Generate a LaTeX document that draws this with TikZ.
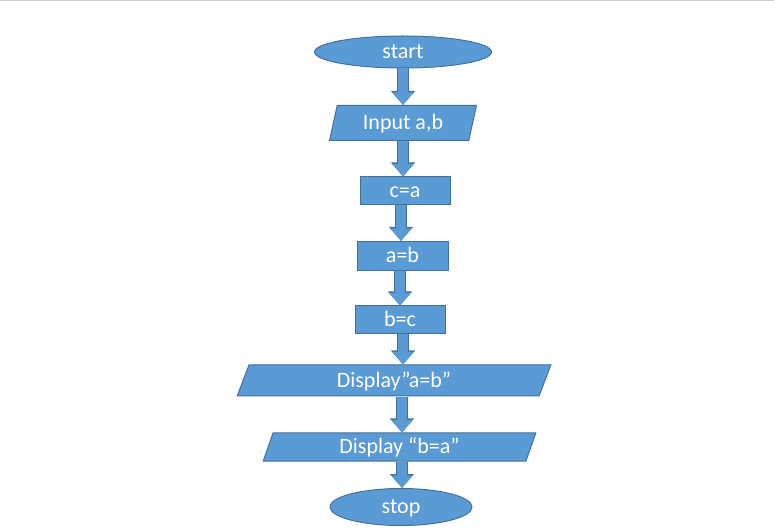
\documentclass[tikz,border=0pt]{standalone}
\usepackage{fontspec}
\setmainfont{Carlito}
\usetikzlibrary{shapes.geometric, arrows.meta}

\definecolor{boxfill}{HTML}{5B9BD5}
\definecolor{boxline}{HTML}{41719C}

\tikzset{
    block/.style={fill=boxfill, draw=boxline, line width=0.75pt, text=white,
        font=\fontsize{16.5}{20}\selectfont, inner sep=0pt,
        text height=12pt, text depth=2pt},
    terminal/.style={block, ellipse},
    process/.style={block, rectangle},
    io/.style={block, trapezium, trapezium left angle=76, trapezium right angle=104,
        trapezium stretches=true},
    flow/.style={boxfill, line width=7pt, -{Triangle[width=15pt,length=9.5pt]},
        preaction={draw=boxline, line width=8.5pt, -{Triangle[width=17.5pt,length=10.5pt]}}},
}

\begin{document}
\begin{tikzpicture}[x=0.75pt, y=-0.75pt]
    \useasboundingbox (0,0) rectangle (774,530);
    \draw[black!18, line width=1pt] (0,0.7) -- (774,0.7);

    % start and input
    \node[terminal, minimum width=132.75pt, minimum height=24pt] (start) at (403,52) {start};
    \node[io, minimum width=110.25pt, minimum height=26.25pt] (input) at (403,123) {Input a,b};

    % swapping through c
    \node[process, minimum width=67.5pt, minimum height=21pt] (cisa) at (405,191) {c=a};
    \node[process, minimum width=68.25pt, minimum height=21.75pt] (aisb) at (402.5,256) {a=b};
    \node[process, minimum width=67.5pt, minimum height=21pt] (bisc) at (400,320) {b=c};

    % output and stop
    \node[io, minimum width=237pt, minimum height=23.25pt] (showab) at (394,380.5) {Display”a=b”};
    \node[io, minimum width=206.25pt, minimum height=21pt] (showba) at (399.5,447) {Display “b=a”};
    \node[terminal, minimum width=106.5pt, minimum height=27.75pt] (stop) at (401,507) {stop};

    % connectors
    \draw[flow] (start.south) -- (start.south |- input.north);
    \draw[flow] (input.south) -- (input.south |- cisa.north);
    \path (cisa.south -| 401,0) coordinate (c1);
    \draw[flow] (c1) -- (c1 |- aisb.north);
    \path (aisb.south -| 400,0) coordinate (c2);
    \draw[flow] (c2) -- (c2 |- bisc.north);
    \path (bisc.south -| 403,0) coordinate (c3);
    \draw[flow] (c3) -- (c3 |- showab.north);
    \path (showab.south -| 402,0) coordinate (c4);
    \draw[flow] (c4) -- (c4 |- showba.north);
    \path (showba.south -| 402,0) coordinate (c5);
    \draw[flow] (c5) -- (c5 |- stop.north);
\end{tikzpicture}
\end{document}
